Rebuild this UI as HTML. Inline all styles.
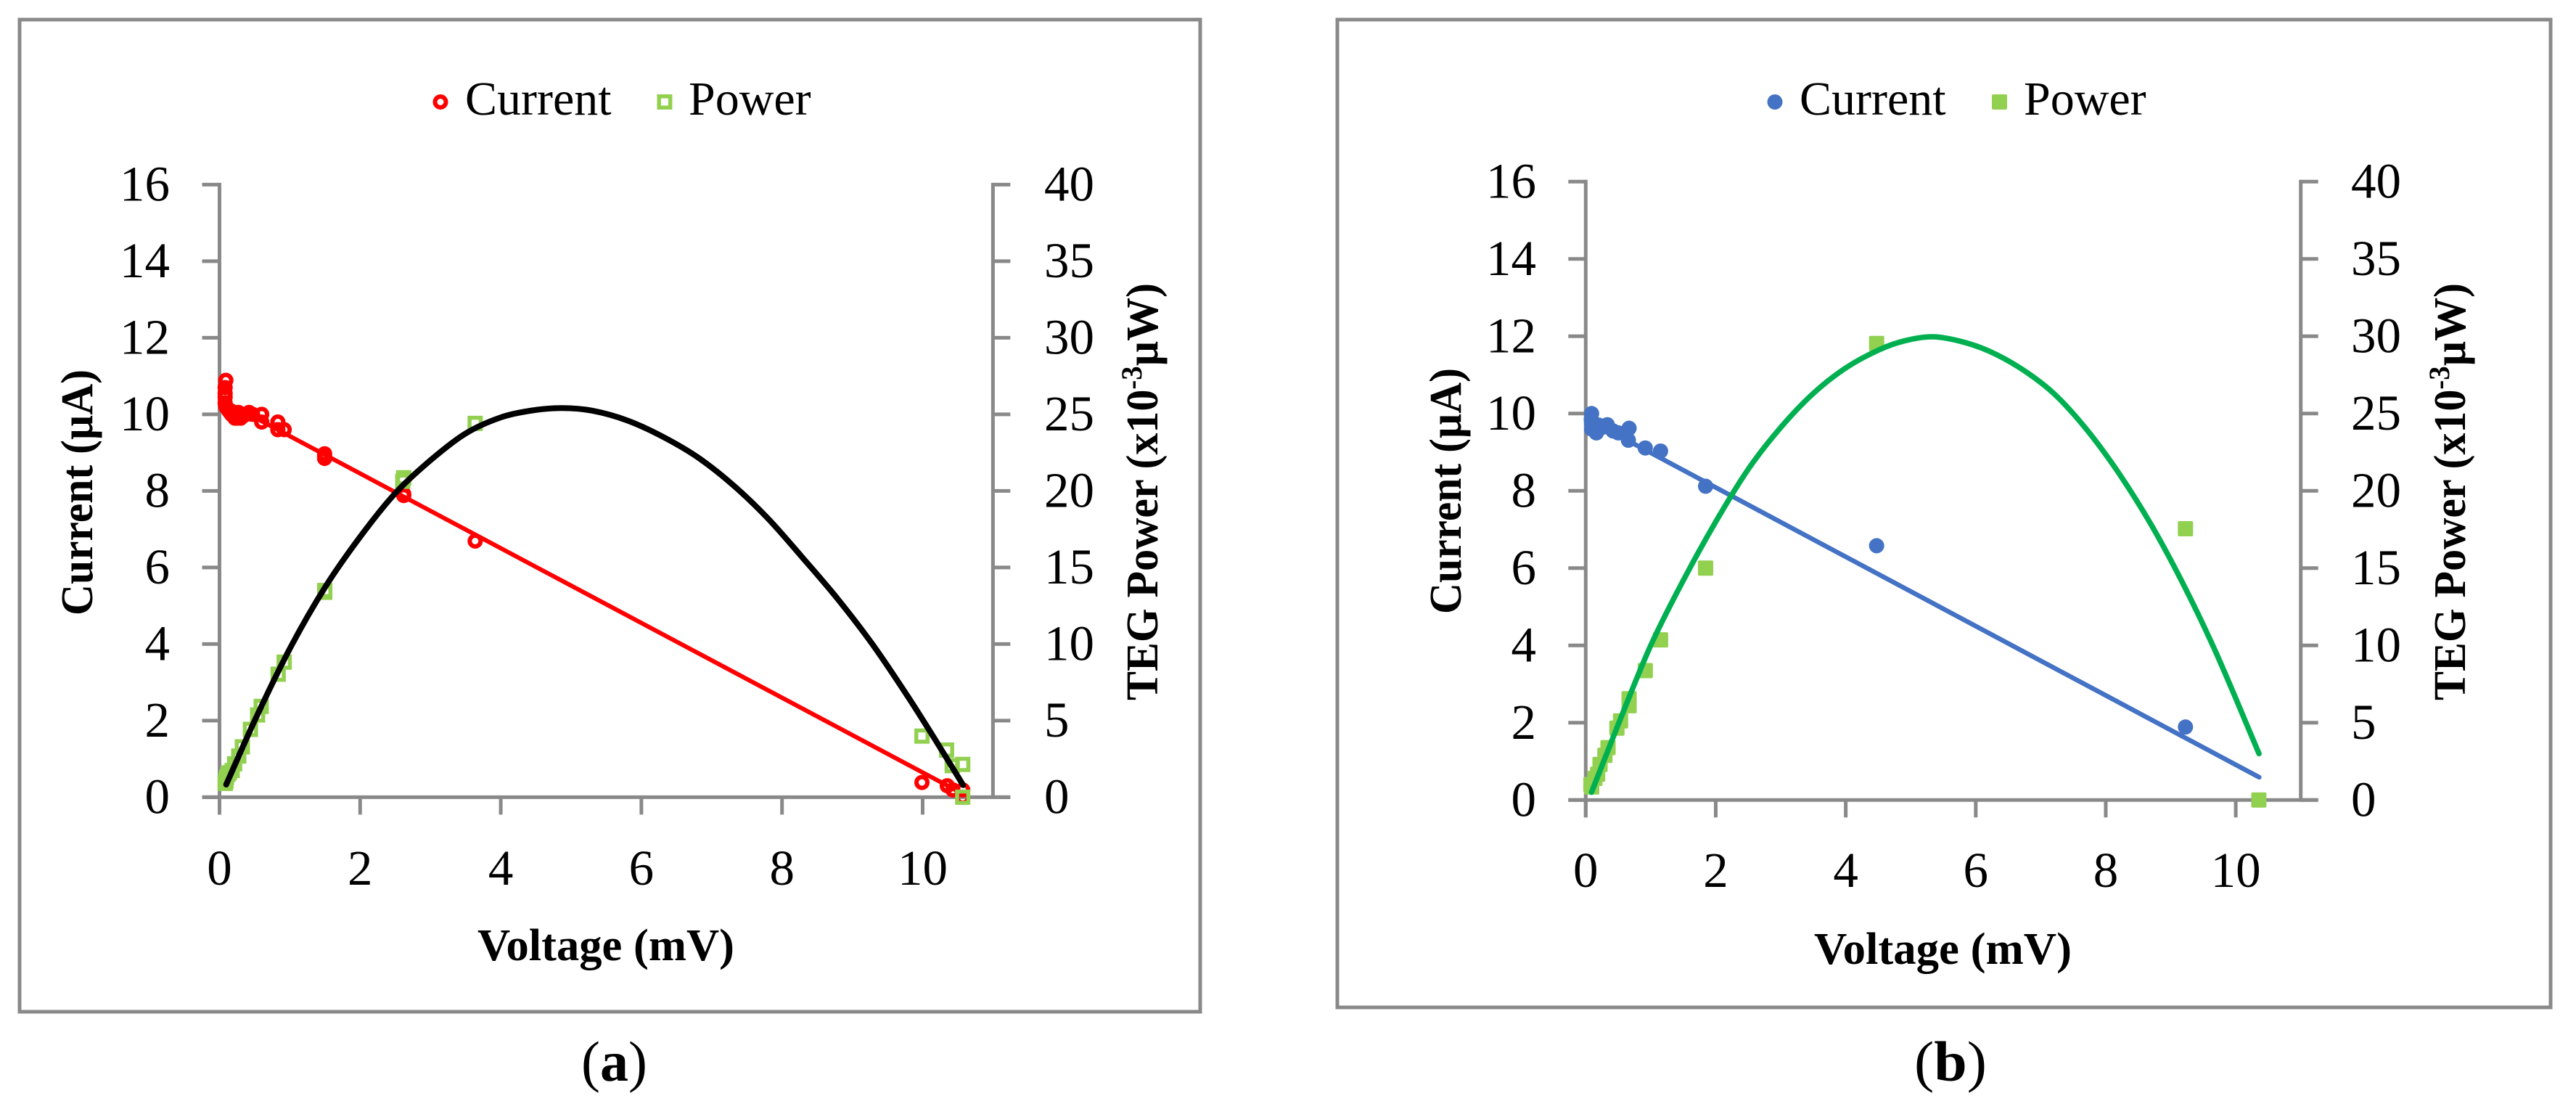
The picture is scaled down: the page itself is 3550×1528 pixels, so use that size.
<!DOCTYPE html>
<html lang="en">
<head>
<meta charset="utf-8">
<title>TEG current and power versus voltage</title>
<style>
html,body{margin:0;padding:0;background:#fff;width:3550px;height:1528px;overflow:hidden}
svg{display:block}
text{font-family:"Liberation Serif",serif;fill:#000}
.tick{font-size:69px}
.legend{font-size:66px}
.title{font-size:62px;font-weight:bold}
.cap{font-size:78px}
</style>
</head>
<body>
<svg id="figure" xmlns="http://www.w3.org/2000/svg" width="3550" height="1528" viewBox="0 0 3550 1528">
  <rect x="0" y="0" width="3550" height="1528" fill="#fff"/>

  <g id="panel-a">
    <rect x="27" y="27" width="1627" height="1367" fill="#fff" stroke="#898989" stroke-width="5"/>
    <g>
      <circle cx="607" cy="140.5" r="7.5" fill="#fff" stroke="#ff0000" stroke-width="6"/>
      <text class="legend" x="641" y="158">Current</text>
      <rect x="908.2" y="132.7" width="15.5" height="15.5" fill="#fff" stroke="#92d050" stroke-width="5.5"/>
      <text class="legend" x="949" y="158">Power</text>
    </g>
    <text class="title" x="658" y="1323" textLength="354" lengthAdjust="spacingAndGlyphs">Voltage (mV)</text>
    <text class="title" transform="translate(127 848) rotate(-90)" textLength="339" lengthAdjust="spacingAndGlyphs">Current (µA)</text>
    <text class="title" transform="translate(1595 965) rotate(-90)" textLength="575" lengthAdjust="spacingAndGlyphs">TEG Power (x10<tspan font-size="40" dy="-22">-3</tspan><tspan dy="22">µW)</tspan></text>
    <text class="cap" x="801" y="1489" textLength="91" lengthAdjust="spacingAndGlyphs">(<tspan font-weight="bold">a</tspan>)</text>
  </g>

  <g id="panel-b">
    <rect x="1843" y="27" width="1672" height="1361" fill="#fff" stroke="#898989" stroke-width="5"/>
    <g>
      <circle cx="2446" cy="140.5" r="10.5" fill="#4472c4"/>
      <text class="legend" x="2480" y="158">Current</text>
      <rect x="2745" y="130" width="21" height="21" rx="2" fill="#92d050"/>
      <text class="legend" x="2789" y="158">Power</text>
    </g>
    <text class="title" x="2500" y="1328" textLength="355" lengthAdjust="spacingAndGlyphs">Voltage (mV)</text>
    <text class="title" transform="translate(2013 846) rotate(-90)" textLength="339" lengthAdjust="spacingAndGlyphs">Current (µA)</text>
    <text class="title" transform="translate(3397 965) rotate(-90)" textLength="575" lengthAdjust="spacingAndGlyphs">TEG Power (x10<tspan font-size="40" dy="-22">-3</tspan><tspan dy="22">µW)</tspan></text>
    <text class="cap" x="2638" y="1489" textLength="100" lengthAdjust="spacingAndGlyphs">(<tspan font-weight="bold">b</tspan>)</text>
  </g>
</svg>

<script>
// ---- shared axis ticks ----
const voltageTicks = [0, 2, 4, 6, 8, 10];
const currentTicks = [0, 2, 4, 6, 8, 10, 12, 14, 16];
const powerTicks = [0, 5, 10, 15, 20, 25, 30, 35, 40];

// ---- panel (a) data ----
const currentVoltageA = [0.09,0.08,0.08,0.08,0.08,0.09,0.11,0.13,0.15,0.17,0.2,0.22,0.25,0.27,0.3,0.33,0.38,0.42,0.47,0.6,0.6,0.83,0.83,0.92,1.495,1.495,1.495,2.62,2.62,3.636,9.99,10.35,10.43,10.57,10.57];
const currentValuesA = [10.89,10.7,10.55,10.45,10.3,10.2,10.15,10.1,10.05,10,9.95,9.9,9.9,10.05,9.9,9.95,10,10.05,10,10,9.8,9.8,9.6,9.6,8.97,8.9,8.85,7.92,7.88,6.69,0.385,0.3,0.19,0.19,0];
const powerVoltageA = [0.08,0.09,0.09,0.1,0.12,0.14,0.18,0.215,0.274,0.325,0.44,0.542,0.593,0.834,0.92,1.497,1.497,2.606,2.62,3.636,9.99,10.34,10.42,10.57,10.57];
const powerValuesA = [0.9,1.0,1.1,1.3,1.5,1.6,1.74,2.18,2.69,3.29,4.43,5.37,5.93,8.03,8.82,13.5,13.38,20.63,20.86,24.41,3.99,3.08,2.06,2.14,0];
const currentFitVoltageA = [0.09,10.58];
const currentFitValuesA = [10.32,0.08];
const powerFitVoltageA = [0.095,0.5,1,1.5,2,2.5,3,3.5,4,4.44,4.87,5.3,5.8,6.3,6.8,7.3,7.8,8.3,8.8,9.3,9.8,10.2,10.576];
const powerFitValuesA = [0.825,5,9.7,13.7,17,19.85,22,23.75,24.8,25.25,25.41,25.24,24.6,23.55,22.2,20.4,18.2,15.6,12.9,9.9,6.5,3.6,0.79];

// ---- panel (b) data ----
const currentVoltageB = [0.09,0.085,0.09,0.09,0.164,0.2,0.27,0.332,0.42,0.5,0.656,0.667,0.916,1.151,1.844,4.475,9.226];
const currentValuesB = [10,9.85,9.75,9.6,9.5,9.7,9.65,9.71,9.55,9.5,9.31,9.62,9.11,9.03,8.12,6.58,1.89];
const powerVoltageB = [0.08,0.09,0.09,0.14,0.183,0.22,0.295,0.343,0.48,0.536,0.667,0.667,0.916,1.151,1.844,4.475,9.226,10.355];
const powerValuesB = [1,0.85,0.95,1.4,1.67,2.3,2.89,3.39,4.65,5.12,6.1,6.55,8.37,10.36,15,29.53,17.55,0];
const currentFitVoltageB = [0.09,10.36];
const currentFitValuesB = [9.8,0.59];
const powerFitVoltageB = [0.089,0.536,1,1.5,2,2.5,3,3.5,4,4.5,4.9,5.32,5.74,6.2,6.7,7.2,7.7,8.2,8.7,9.2,9.7,10.358];
const powerFitValuesB = [0.5,5.27,10,14.2,18,21.4,24.1,26.3,27.95,29.1,29.7,29.97,29.7,29.05,27.9,26.3,24,21.15,17.8,13.9,9.5,3];

const SVG_NS = 'http://www.w3.org/2000/svg';
const AXIS_COLOR = '#898989';

function mk(parent, tag) {
  const el = document.createElementNS(SVG_NS, tag);
  parent.appendChild(el);
  return el;
}
function setAll(el, props) {
  Object.keys(props).forEach(function (k) { el.setAttribute(k, props[k]); });
  return el;
}
function smoothPath(pts) {
  let d = 'M' + pts[0][0].toFixed(2) + ' ' + pts[0][1].toFixed(2);
  for (let i = 0; i < pts.length - 1; i++) {
    const p0 = pts[Math.max(0, i - 1)], p1 = pts[i], p2 = pts[i + 1], p3 = pts[Math.min(pts.length - 1, i + 2)];
    const t1 = (p2[0] - p1[0]) / (p2[0] - p0[0]) / 3, t2 = (p2[0] - p1[0]) / (p3[0] - p1[0]) / 3;
    const c1x = p1[0] + (p2[0] - p0[0]) * t1, c1y = p1[1] + (p2[1] - p0[1]) * t1;
    const c2x = p2[0] - (p3[0] - p1[0]) * t2, c2y = p2[1] - (p3[1] - p1[1]) * t2;
    d += 'C' + c1x.toFixed(2) + ' ' + c1y.toFixed(2) + ' ' + c2x.toFixed(2) + ' ' + c2y.toFixed(2) + ' ' + p2[0].toFixed(2) + ' ' + p2[1].toFixed(2);
  }
  return d;
}

function drawPanel(host, g, data) {
  const xS = function (v) { return g.x0 + (v / 11) * (g.x1 - g.x0); };
  const yL = function (v) { return g.y0 - (v / 16) * (g.y0 - g.y1); };
  const yR = function (v) { return g.y0 - (v / 40) * (g.y0 - g.y1); };
  const LEN = 24;

  // axes
  const axes = mk(host, 'g');
  
  
  const leftAxis = setAll(mk(axes, 'line'), {x1: g.x0, x2: g.x0, y1: g.y1 - 2.5, y2: g.y0 + LEN, stroke: AXIS_COLOR, 'stroke-width': 5});
  
  
  const rightAxis = setAll(mk(axes, 'line'), {x1: g.x1, x2: g.x1, y1: g.y1 - 2.5, y2: g.y0, stroke: AXIS_COLOR, 'stroke-width': 5});
  
  
  const bottomAxis = setAll(mk(axes, 'line'), {x1: g.x0 - LEN, x2: g.x1 + LEN, y1: g.y0, y2: g.y0, stroke: AXIS_COLOR, 'stroke-width': 5});
  
  

  voltageTicks.forEach(function (v) {
    const t = setAll(mk(axes, 'line'), {x1: xS(v), x2: xS(v), y1: g.y0, y2: g.y0 + LEN, stroke: AXIS_COLOR, 'stroke-width': 5});
    
    
    const l = setAll(mk(axes, 'text'), {x: xS(v), y: g.labelBaselineX, 'text-anchor': 'middle', 'class': 'tick'});
    l.textContent = String(v);
    
    
  });
  currentTicks.forEach(function (v) {
    const t = setAll(mk(axes, 'line'), {x1: g.x0 - LEN, x2: g.x0, y1: yL(v), y2: yL(v), stroke: AXIS_COLOR, 'stroke-width': 5});
    
    
    const l = setAll(mk(axes, 'text'), {x: g.leftLabelX, y: yL(v) + 22, 'text-anchor': 'end', 'class': 'tick'});
    l.textContent = String(v);
    
    
  });
  powerTicks.forEach(function (v) {
    const t = setAll(mk(axes, 'line'), {x1: g.x1, x2: g.x1 + LEN, y1: yR(v), y2: yR(v), stroke: AXIS_COLOR, 'stroke-width': 5});
    
    
    const l = setAll(mk(axes, 'text'), {x: g.rightLabelX, y: yR(v) + 22, 'text-anchor': 'start', 'class': 'tick'});
    l.textContent = String(v);
    
    
  });

  // current markers
  const currentGroup = mk(host, 'g');
  
  
  data.currentX.forEach(function (v, i) {
    const c = setAll(mk(currentGroup, 'circle'), {cx: xS(v), cy: yL(data.currentY[i])});
    if (g.hollow) {
      setAll(c, {r: 7.5, fill: 'none', stroke: g.currentColor, 'stroke-width': 6});
    } else {
      setAll(c, {r: 10.5, fill: g.currentColor});
    }
    
    
  });

  // linear fit
  const currentFit = setAll(mk(host, 'line'), {
    x1: xS(data.currentFitX[0]), y1: yL(data.currentFitY[0]),
    x2: xS(data.currentFitX[1]), y2: yL(data.currentFitY[1]),
    stroke: g.currentColor, 'stroke-width': g.lineWidth, 'stroke-linecap': 'round'
  });
  
  

  // power markers
  const powerGroup = mk(host, 'g');
  
  
  data.powerX.forEach(function (v, i) {
    const side = g.hollow ? 15.5 : 21;
    const s = setAll(mk(powerGroup, 'rect'), {x: xS(v) - side / 2, y: yR(data.powerY[i]) - side / 2, width: side, height: side});
    if (g.hollow) {
      setAll(s, {fill: 'none', stroke: g.powerColor, 'stroke-width': 5.5});
    } else {
      setAll(s, {fill: g.powerColor, rx: 2});
    }
    
    
  });

  // power fit
  const fitPts = data.powerFitX.map(function (v, i) { return [xS(v), yR(data.powerFitY[i])]; });
  const powerFit = setAll(mk(host, 'path'), {
    d: smoothPath(fitPts), fill: 'none', stroke: g.fitColor,
    'stroke-width': g.fitWidth, 'stroke-linecap': 'round', 'stroke-linejoin': 'round'
  });
  
  
}

drawPanel(document.getElementById('panel-a'), {
  x0: 302.5, x1: 1368.4, y0: 1098.4, y1: 254.4,
  leftLabelX: 234, rightLabelX: 1439, labelBaselineX: 1219,
  hollow: true, currentColor: '#ff0000', powerColor: '#92d050', fitColor: '#000000', fitWidth: 8, lineWidth: 6
}, {
  currentX: currentVoltageA, currentY: currentValuesA,
  powerX: powerVoltageA, powerY: powerValuesA,
  currentFitX: currentFitVoltageA, currentFitY: currentFitValuesA,
  powerFitX: powerFitVoltageA, powerFitY: powerFitValuesA
});

drawPanel(document.getElementById('panel-b'), {
  x0: 2185.3, x1: 3170.7, y0: 1102.3, y1: 250.3,
  leftLabelX: 2117, rightLabelX: 3240, labelBaselineX: 1222,
  hollow: false, currentColor: '#4472c4', powerColor: '#92d050', fitColor: '#00b050', fitWidth: 7.5, lineWidth: 6.5
}, {
  currentX: currentVoltageB, currentY: currentValuesB,
  powerX: powerVoltageB, powerY: powerValuesB,
  currentFitX: currentFitVoltageB, currentFitY: currentFitValuesB,
  powerFitX: powerFitVoltageB, powerFitY: powerFitValuesB
});
</script>
</body>
</html>
